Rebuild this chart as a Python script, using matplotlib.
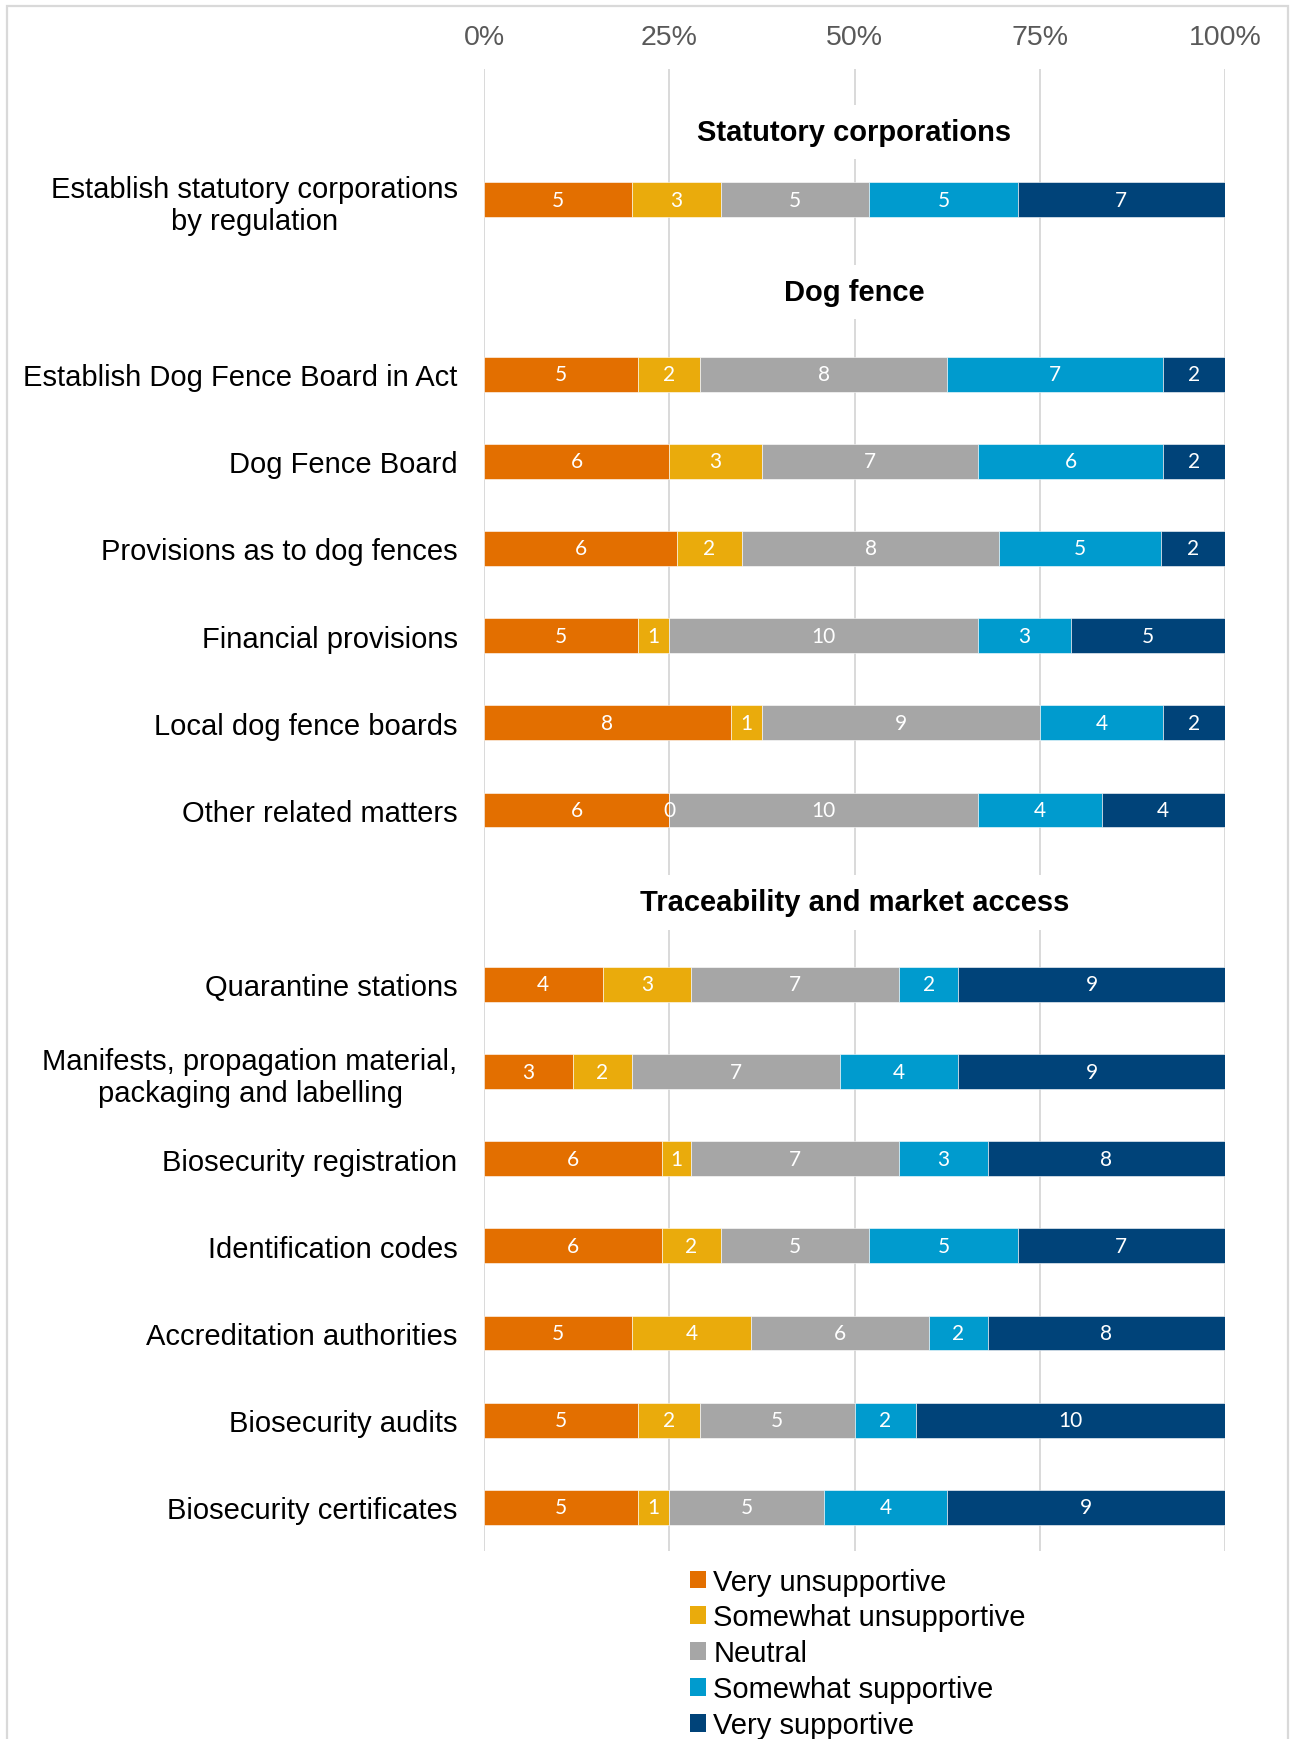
import matplotlib
matplotlib.use("Agg")
import matplotlib.pyplot as plt
from matplotlib.patches import Patch, Rectangle
from matplotlib.ticker import PercentFormatter
import numpy as np

# ─── data ─────────────────────────────────────────────────────────────────────
responses = ["Very unsupportive", "Somewhat unsupportive", "Neutral",
             "Somewhat supportive", "Very supportive"]
colors = ["#E36F00", "#EAAB0C", "#A6A6A6", "#009BCE", "#004379"]

items = [
    "Establish statutory corporations\nby regulation",
    "Establish Dog Fence Board in Act",
    "Dog Fence Board",
    "Provisions as to dog fences",
    "Financial provisions",
    "Local dog fence boards",
    "Other related matters",
    "Quarantine stations",
    "Manifests, propagation material,\npackaging and labelling",
    "Biosecurity registration",
    "Identification codes",
    "Accreditation authorities",
    "Biosecurity audits",
    "Biosecurity certificates",
]
# slot of each item on the category axis (slots 1 and 8 hold section headings)
item_slots = [0, 2, 3, 4, 5, 6, 7, 9, 10, 11, 12, 13, 14, 15]

very_unsup = [5, 5, 6, 6, 5, 8, 6, 4, 3, 6, 6, 5, 5, 5]
some_unsup = [3, 2, 3, 2, 1, 1, 0, 3, 2, 1, 2, 4, 2, 1]
neutral    = [5, 8, 7, 8, 10, 9, 10, 7, 7, 7, 5, 6, 5, 5]
some_sup   = [5, 7, 6, 5, 3, 4, 4, 2, 4, 3, 5, 2, 2, 4]
very_sup   = [7, 2, 2, 2, 5, 2, 4, 9, 9, 8, 7, 8, 10, 9]

sections = ["Statutory corporations", "Dog fence", "Traceability and market access"]
section_slots = [-0.78, 1.06, 8.06]

FONT = "Liberation Sans"
FS = 21

# ─── plot ─────────────────────────────────────────────────────────────────────
counts = np.array([very_unsup, some_unsup, neutral, some_sup, very_sup], dtype=float)
shares = counts / counts.sum(axis=0)

fig = plt.figure(figsize=(12.91, 17.40), dpi=100)
ax = fig.add_axes([484 / 1291, 1 - 1552 / 1740, (1225 - 484) / 1291, (1552 - 70) / 1740])

left = np.zeros(len(items))
for k, name in enumerate(responses):
    ax.barh(item_slots, shares[k], left=left, height=0.4, color=colors[k],
            edgecolor="white", linewidth=0.4, label=name, zorder=3)
    for y, x0, w, n in zip(item_slots, left, shares[k], counts[k]):
        ax.text(x0 + w / 2, y, f"{int(n)}", ha="center", va="center",
                color="white", fontsize=15, family=["Lato", "DejaVu Sans"], zorder=4)
    left += shares[k]

for title, y in zip(sections, section_slots):
    ax.text(0.5, y, title, ha="center", va="center", fontsize=FS,
            fontweight="bold", family=FONT, zorder=5,
            bbox=dict(boxstyle="square,pad=0.45", fc="white", ec="none"))

ax.set_xlim(0, 1)
ax.set_ylim(15.5, -1.5)
ax.set_xticks([0, 0.25, 0.5, 0.75, 1.0])
ax.xaxis.set_major_formatter(PercentFormatter(1.0, decimals=0))
ax.xaxis.tick_top()
ax.tick_params(axis="x", length=0, pad=14, labelsize=20.5, labelcolor="#595959")
ax.set_yticks(item_slots)
ax.set_yticklabels(items)
ax.tick_params(axis="y", length=0, pad=19, labelsize=FS)
for lab in ax.get_yticklabels() + ax.get_xticklabels():
    lab.set_family(FONT)
for lab in ax.get_yticklabels():
    lab.set_multialignment("center")
ax.grid(axis="x", color="#D9D9D9", lw=1.4, zorder=0)
for s in ax.spines.values():
    s.set_visible(False)

handles = [Patch(facecolor=c, edgecolor="none") for c in colors]
fig.legend(handles, responses, loc="upper left", bbox_to_anchor=(690 / 1291, 0.0985),
           frameon=False, prop={"family": FONT, "size": FS},
           handlelength=0.55, handleheight=0.55, handletextpad=0.25,
           labelspacing=0.27, borderpad=0, borderaxespad=0)

# light frame round the chart area
fig.add_artist(Rectangle((7 / 1291, -0.01), (1288 - 7) / 1291, 1 - 7 / 1740 + 0.01,
                         transform=fig.transFigure, fill=False,
                         ec="#D9D9D9", lw=1.6, clip_on=False))

fig.savefig("out.png", dpi=100)
